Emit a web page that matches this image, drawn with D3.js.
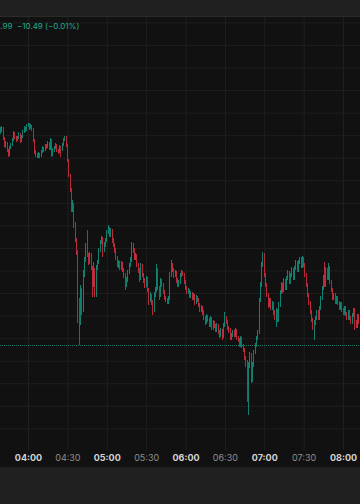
<!DOCTYPE html>
<html>
<head>
<meta charset="utf-8">
<script src="https://cdn.jsdelivr.net/npm/d3@7"></script>
<style>
  html, body { margin: 0; padding: 0; background: #111111; }
  svg { display: block; }
</style>
</head>
<body>
<script>
/////////////
/// DATA  ///
/////////////

// one-minute candles starting at 03:39
var startTime = "03:39";

var opens = [
  105405, 105412, 105416, 105394, 105378, 105383, 105367, 105356, 105372, 105378,
  105390, 105405, 105396, 105390, 105394, 105403, 105387, 105396, 105407, 105416,
  105412, 105421, 105425, 105416, 105421, 105414, 105390, 105363, 105356, 105352,
  105359, 105354, 105363, 105372, 105367, 105376, 105374, 105383, 105370, 105390,
  105356, 105367, 105372, 105378, 105367, 105363, 105374, 105367, 105378, 105390,
  105396, 105378, 105345, 105312, 105279, 105234, 105245, 105201, 105168, 105141,
  105035, 104990, 105057, 105013, 105090, 105124, 105157, 105135, 105119, 105135,
  105106, 105068, 105101, 105046, 105106, 105119, 105146, 105163, 105172, 105146,
  105157, 105168, 105186, 105194, 105179, 105190, 105168, 105157, 105146, 105128,
  105112, 105119, 105106, 105117, 105101, 105090, 105068, 105079, 105097, 105112,
  105124, 105157, 105146, 105128, 105135, 105112, 105101, 105084, 105112, 105090,
  105079, 105068, 105084, 105057, 105035, 105046, 105030, 105013, 105046, 105057,
  105101, 105061, 105046, 105079, 105068, 105053, 105039, 105035, 105030, 105039,
  105090, 105112, 105101, 105090, 105097, 105079, 105068, 105075, 105090, 105097,
  105092, 105075, 105061, 105053, 105057, 105044, 105050, 105039, 105046, 105030,
  105041, 105035, 105024, 105013, 105019, 105008, 104995, 104986, 104999, 104990,
  104979, 104995, 104973, 104986, 104977, 104968, 104979, 104964, 104957, 104968,
  104955, 104979, 104995, 104986, 104973, 104968, 104951, 104957, 104964, 104957,
  104968, 104951, 104946, 104935, 104951, 104933, 104924, 104906, 104897, 104824,
  104891, 104913, 104857, 104891, 104920, 104935, 104951, 104964, 105035, 105068,
  105112, 105128, 105090, 105068, 105046, 105024, 105035, 105017, 105028, 105008,
  104995, 105013, 104990, 105024, 105053, 105068, 105057, 105079, 105061, 105084,
  105097, 105075, 105090, 105101, 105084, 105106, 105119, 105101, 105119, 105128,
  105110, 105128, 105112, 105090, 105068, 105046, 105028, 105008, 104990, 104975,
  104986, 104995, 105008, 104995, 105017, 105039, 105061, 105084, 105068, 105101,
  105084, 105106, 105075, 105057, 105039, 105046, 105030, 105039, 105028, 105017,
  105026, 105013, 105006, 105017, 105004, 104995, 105008, 104995, 104986, 105002,
  105013, 104986, 104977, 104999, 104986
];

var highs = [
  105418, 105421, 105418, 105396, 105387, 105385, 105370, 105376, 105383, 105394,
  105410, 105407, 105398, 105398, 105407, 105405, 105401, 105412, 105421, 105418,
  105425, 105427, 105427, 105425, 105423, 105416, 105392, 105367, 105361, 105363,
  105361, 105367, 105376, 105374, 105381, 105381, 105387, 105385, 105394, 105392,
  105372, 105376, 105383, 105381, 105370, 105378, 105376, 105383, 105394, 105398,
  105398, 105381, 105347, 105314, 105283, 105257, 105250, 105208, 105172, 105146,
  105039, 105068, 105061, 105101, 105130, 105161, 105190, 105139, 105141, 105139,
  105110, 105119, 105106, 105112, 105124, 105150, 105168, 105177, 105175, 105163,
  105172, 105190, 105201, 105197, 105194, 105192, 105172, 105161, 105150, 105132,
  105124, 105121, 105121, 105119, 105106, 105095, 105086, 105101, 105117, 105130,
  105163, 105161, 105150, 105139, 105137, 105117, 105106, 105117, 105115, 105095,
  105084, 105088, 105086, 105061, 105053, 105048, 105035, 105053, 105064, 105115,
  105106, 105066, 105084, 105081, 105072, 105057, 105044, 105039, 105044, 105097,
  105124, 105117, 105106, 105101, 105099, 105084, 105079, 105095, 105101, 105099,
  105095, 105079, 105066, 105061, 105059, 105055, 105053, 105050, 105048, 105046,
  105044, 105039, 105028, 105024, 105021, 105013, 104999, 105004, 105002, 104995,
  104999, 104997, 104990, 104988, 104982, 104984, 104982, 104968, 104973, 104970,
  104984, 105008, 104999, 104990, 104977, 104973, 104962, 104968, 104968, 104973,
  104970, 104955, 104951, 104955, 104953, 104937, 104928, 104911, 104902, 104897,
  104920, 104917, 104897, 104924, 104939, 104955, 104968, 105039, 105075, 105119,
  105141, 105139, 105095, 105072, 105050, 105039, 105039, 105033, 105030, 105013,
  105017, 105015, 105030, 105057, 105075, 105072, 105084, 105081, 105088, 105101,
  105099, 105095, 105108, 105106, 105110, 105124, 105121, 105124, 105130, 105130,
  105132, 105130, 105117, 105095, 105072, 105050, 105033, 105013, 104995, 104990,
  104999, 105013, 105013, 105021, 105044, 105066, 105090, 105119, 105108, 105106,
  105117, 105110, 105079, 105061, 105050, 105050, 105044, 105044, 105033, 105030,
  105030, 105017, 105021, 105021, 105008, 105013, 105013, 104999, 105006, 105017,
  105017, 104990, 105004, 105004, 104995
];

var lows = [
  105403, 105407, 105390, 105374, 105372, 105363, 105352, 105354, 105370, 105376,
  105387, 105392, 105385, 105387, 105392, 105383, 105385, 105394, 105405, 105407,
  105410, 105418, 105412, 105414, 105410, 105385, 105359, 105352, 105350, 105350,
  105350, 105352, 105361, 105363, 105365, 105370, 105372, 105367, 105367, 105352,
  105354, 105363, 105370, 105363, 105359, 105361, 105352, 105365, 105376, 105387,
  105374, 105341, 105308, 105274, 105230, 105230, 105194, 105163, 105135, 104984,
  104935, 104979, 105002, 105008, 105086, 105119, 105130, 105112, 105115, 105101,
  105041, 105064, 105041, 105041, 105101, 105115, 105141, 105159, 105130, 105141,
  105152, 105163, 105181, 105175, 105175, 105161, 105152, 105139, 105124, 105108,
  105106, 105101, 105101, 105097, 105084, 105057, 105064, 105075, 105092, 105108,
  105119, 105139, 105124, 105124, 105108, 105095, 105075, 105079, 105086, 105072,
  105061, 105064, 105053, 105024, 105030, 105024, 105002, 105008, 105041, 105053,
  105057, 105035, 105041, 105064, 105048, 105035, 105030, 105026, 105026, 105035,
  105086, 105097, 105084, 105086, 105072, 105064, 105064, 105070, 105086, 105088,
  105070, 105057, 105048, 105048, 105039, 105039, 105035, 105035, 105024, 105026,
  105030, 105019, 105008, 105008, 105002, 104990, 104979, 104982, 104986, 104975,
  104975, 104968, 104968, 104973, 104964, 104964, 104959, 104951, 104953, 104946,
  104951, 104975, 104982, 104968, 104962, 104946, 104946, 104953, 104953, 104953,
  104946, 104942, 104931, 104931, 104928, 104920, 104902, 104886, 104809, 104780,
  104884, 104851, 104853, 104886, 104915, 104931, 104946, 104959, 105030, 105064,
  105108, 105086, 105064, 105041, 105017, 105019, 105013, 105013, 105002, 104990,
  104975, 104986, 104986, 105019, 105048, 105050, 105053, 105057, 105057, 105079,
  105070, 105070, 105086, 105079, 105079, 105101, 105097, 105097, 105115, 105106,
  105106, 105108, 105086, 105064, 105041, 105024, 105004, 104986, 104968, 104946,
  104979, 104990, 104990, 104990, 105013, 105035, 105057, 105064, 105064, 105079,
  105079, 105070, 105053, 105035, 105035, 105026, 105026, 105024, 105013, 105013,
  105008, 105002, 105002, 104999, 104990, 104990, 104990, 104982, 104982, 104997,
  104968, 104973, 104973, 104982, 104979
];

var closes = [
  105412, 105416, 105394, 105378, 105383, 105367, 105356, 105372, 105378, 105390,
  105405, 105396, 105390, 105394, 105403, 105387, 105396, 105407, 105416, 105412,
  105421, 105425, 105416, 105421, 105414, 105390, 105363, 105356, 105352, 105359,
  105354, 105363, 105372, 105367, 105376, 105374, 105383, 105370, 105390, 105356,
  105367, 105372, 105378, 105367, 105363, 105374, 105367, 105378, 105390, 105396,
  105378, 105345, 105312, 105279, 105234, 105245, 105201, 105168, 105141, 105035,
  104990, 105057, 105013, 105090, 105124, 105157, 105135, 105119, 105135, 105106,
  105068, 105101, 105046, 105106, 105119, 105146, 105163, 105172, 105146, 105157,
  105168, 105186, 105194, 105179, 105190, 105168, 105157, 105146, 105128, 105112,
  105119, 105106, 105117, 105101, 105090, 105068, 105079, 105097, 105112, 105124,
  105157, 105146, 105128, 105135, 105112, 105101, 105084, 105112, 105090, 105079,
  105068, 105084, 105057, 105035, 105046, 105030, 105013, 105046, 105057, 105101,
  105061, 105046, 105079, 105068, 105053, 105039, 105035, 105030, 105039, 105090,
  105112, 105101, 105090, 105097, 105079, 105068, 105075, 105090, 105097, 105092,
  105075, 105061, 105053, 105057, 105044, 105050, 105039, 105046, 105030, 105041,
  105035, 105024, 105013, 105019, 105008, 104995, 104986, 104999, 104990, 104979,
  104995, 104973, 104986, 104977, 104968, 104979, 104964, 104957, 104968, 104955,
  104979, 104995, 104986, 104973, 104968, 104951, 104957, 104964, 104957, 104968,
  104951, 104946, 104935, 104951, 104933, 104924, 104906, 104897, 104824, 104891,
  104913, 104857, 104891, 104920, 104935, 104951, 104964, 105035, 105068, 105112,
  105128, 105090, 105068, 105046, 105024, 105035, 105017, 105028, 105008, 104995,
  105013, 104990, 105024, 105053, 105068, 105057, 105079, 105061, 105084, 105097,
  105075, 105090, 105101, 105084, 105106, 105119, 105101, 105119, 105128, 105110,
  105128, 105112, 105090, 105068, 105046, 105028, 105008, 104990, 104975, 104986,
  104995, 105008, 104995, 105017, 105039, 105061, 105084, 105068, 105101, 105084,
  105106, 105075, 105057, 105039, 105046, 105030, 105039, 105028, 105017, 105026,
  105013, 105006, 105017, 105004, 104995, 105008, 104995, 104986, 105002, 105013,
  104986, 104977, 104999, 104986, 104990
];

// dotted reference line (previous close)
var prevClose = 104934;

// time axis labels, full hours are drawn bold
var tickLabels = ["04:00", "04:30", "05:00", "05:30", "06:00",
                  "06:30", "07:00", "07:30", "08:00"];

// legend (left part is cut off by the crop)
var legendClose = "C104,984.99";
var legendChange = "\u221210.49 (\u22120.01%)";

/////////////////
/// SETUP VIZ ///
/////////////////

var W = 360, H = 504;
var plotTop = 17, plotBottom = 450, axisBottom = 467;

var upColor = "#12806e",
    downColor = "#b82a3a",
    gridColor = "#1f1f1f",
    panelColor = "#202020";

var parseTime = d3.timeParse("%H:%M");

// scales
var x = d3.scaleTime()
    .domain([parseTime("04:00"), parseTime("08:00")])
    .range([28, 343]);

var y = d3.scaleLinear()
    .domain([104702, 105662])
    .range([plotBottom, plotTop]);

var t0 = parseTime(startTime);
var candles = closes.map(function(c, i) {
  return { t: d3.timeMinute.offset(t0, i), o: opens[i], h: highs[i], l: lows[i], c: c };
});

var svg = d3.select("body")
    .append("svg")
    .attr("width", W)
    .attr("height", H);

// background
svg.append("rect")
    .attr("width", W)
    .attr("height", H)
    .attr("fill", "#111111");

// top toolbar strip
svg.append("rect")
    .attr("width", W)
    .attr("height", 16)
    .attr("fill", panelColor);
svg.append("rect")
    .attr("y", 16)
    .attr("width", W)
    .attr("height", 1)
    .attr("fill", "#2a2a2a");

// bottom panel strip
svg.append("rect")
    .attr("y", axisBottom)
    .attr("width", W)
    .attr("height", H - axisBottom)
    .attr("fill", panelColor);

// horizontal grid
svg.append("g")
    .attr("class", "grid grid--y")
    .call(d3.axisLeft(y).ticks(20).tickSize(-W).tickFormat(""))
    .call(function(g) { g.select(".domain").remove(); })
    .selectAll("line")
    .attr("stroke", gridColor);

// vertical grid + time labels
var xAxis = svg.append("g")
    .attr("class", "axis axis--x")
    .attr("transform", "translate(0," + plotBottom + ")")
    .call(d3.axisBottom(x)
        .tickValues(tickLabels.map(parseTime))
        .tickSize(-(plotBottom - plotTop))
        .tickPadding(5)
        .tickFormat(d3.timeFormat("%H:%M")));

xAxis.select(".domain").remove();
xAxis.selectAll("line").attr("stroke", gridColor);
xAxis.attr("font-family", "Inter, 'Noto Sans', sans-serif")
    .attr("font-size", 9);
xAxis.selectAll("text")
    .attr("fill", function(d) { return d.getMinutes() === 0 ? "#d4d4d4" : "#8e8e8e"; })
    .attr("font-weight", function(d) { return d.getMinutes() === 0 ? 700 : 400; });

// previous close dotted line
svg.append("line")
    .attr("x1", 0)
    .attr("x2", W)
    .attr("y1", Math.round(y(prevClose)) + 0.5)
    .attr("y2", Math.round(y(prevClose)) + 0.5)
    .attr("stroke", "#1b7563")
    .attr("stroke-width", 1)
    .attr("stroke-dasharray", "1,1");

// candles
function candleX(d) { return Math.round(x(d.t) - 0.5); }

var bars = svg.append("g")
    .attr("id", "candles")
    .selectAll("g")
    .data(candles)
    .join("g")
    .attr("fill", function(d) { return d.c >= d.o ? upColor : downColor; });

// wicks
bars.append("rect")
    .attr("x", candleX)
    .attr("width", 1)
    .attr("y", function(d) { return Math.round(y(d.h)); })
    .attr("height", function(d) { return Math.max(1, Math.round(y(d.l)) - Math.round(y(d.h))); });

// bodies
bars.append("rect")
    .attr("x", candleX)
    .attr("width", 1)
    .attr("y", function(d) { return Math.round(y(Math.max(d.o, d.c))); })
    .attr("height", function(d) {
      return Math.max(1, Math.round(y(Math.min(d.o, d.c))) - Math.round(y(Math.max(d.o, d.c))));
    });

// legend
var legend = svg.append("g")
    .attr("font-family", "Inter, 'Noto Sans', sans-serif")
    .attr("font-size", 8)
    .attr("fill", "#22ab94");

legend.append("text")
    .attr("x", 12.5)
    .attr("y", 28.5)
    .attr("text-anchor", "end")
    .text(legendClose);

legend.append("text")
    .attr("x", 17)
    .attr("y", 28.5)
    .text(legendChange);
</script>
</body>
</html>
